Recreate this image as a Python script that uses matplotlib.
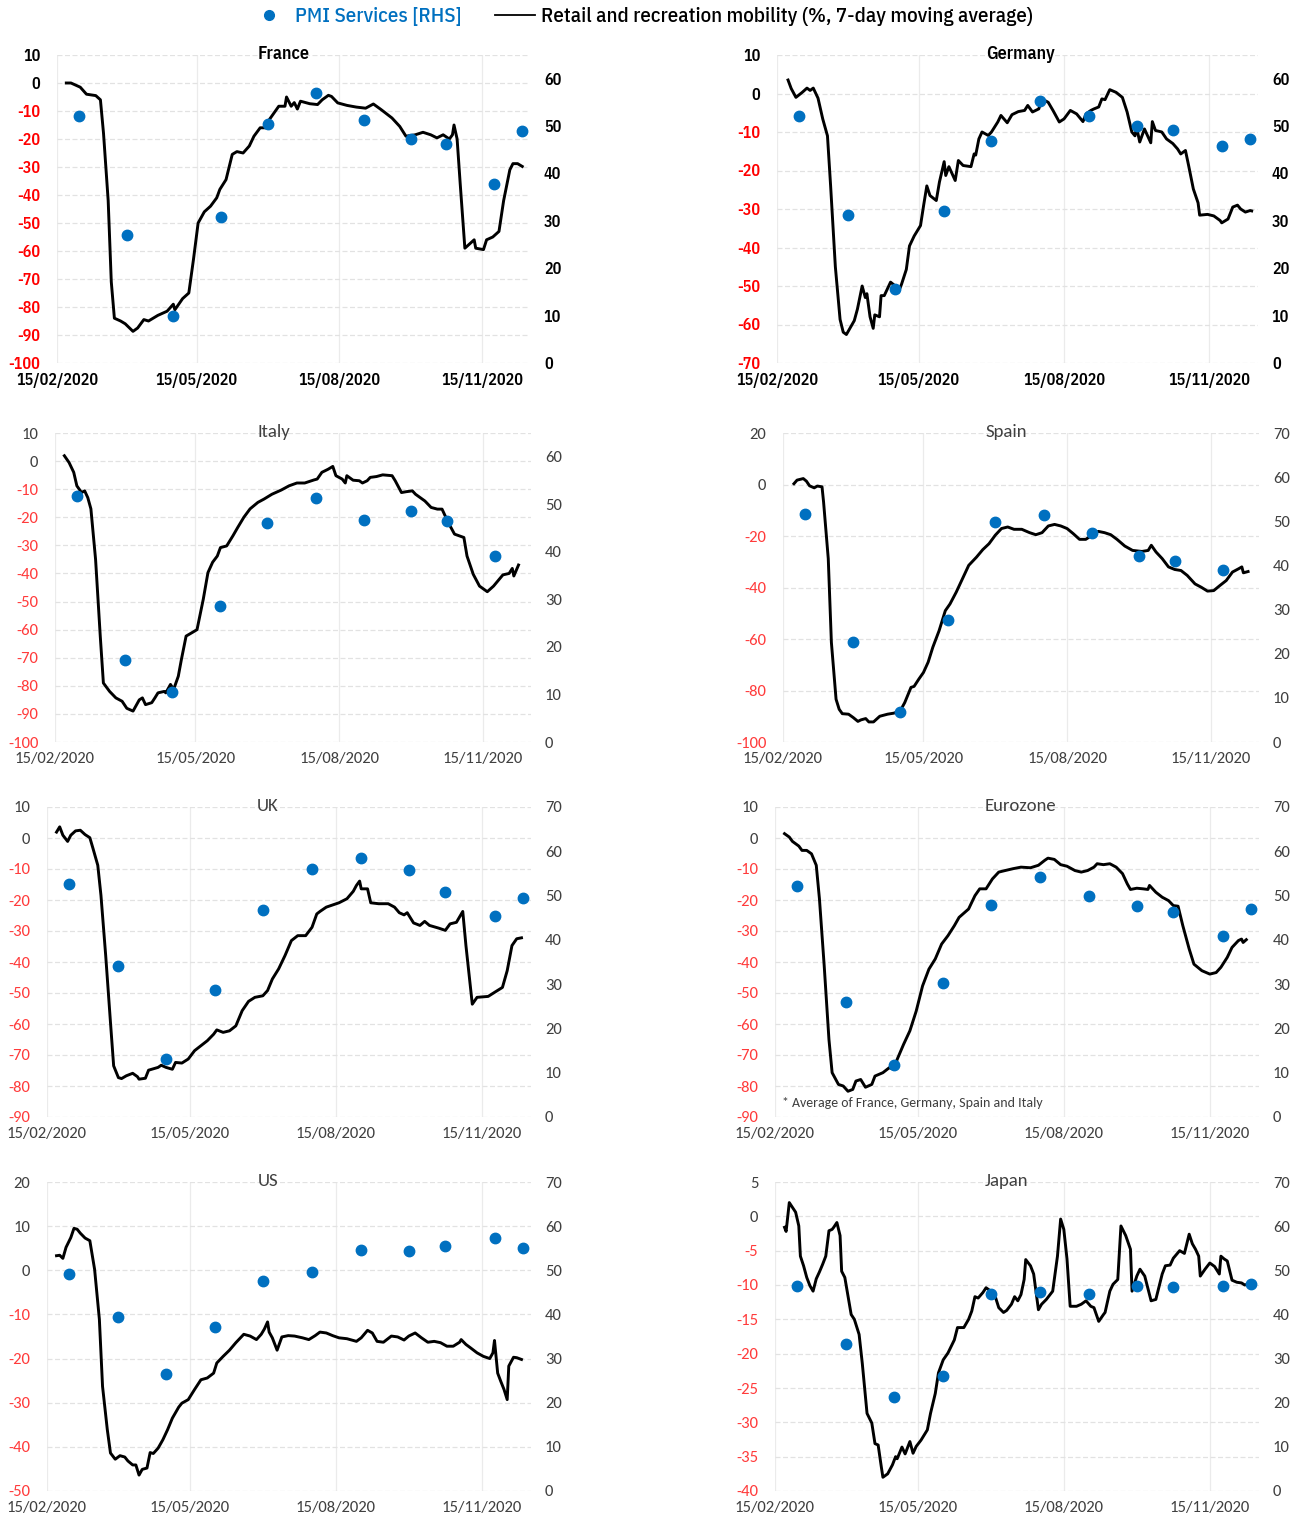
import numpy as np
import pandas as pd
import matplotlib
matplotlib.use('Agg')
import matplotlib.pyplot as plt
import matplotlib.dates as mdates
from matplotlib import font_manager
from matplotlib.lines import Line2D

# mobility: days since 15/02/2020 and % change (7-day moving average)
fr_day = [6, 9, 15, 19, 25, 28, 30, 33, 35, 37, 41, 44, 49, 52, 56, 59, 65, 71, 75, 76,
          81, 85, 88, 91, 95, 99, 103, 105, 109, 113, 116, 120, 124, 127, 131, 135, 137, 143, 147, 148,
          151, 153, 155, 157, 163, 168, 171, 175, 177, 181, 187, 193, 199, 204, 209, 216, 221, 225, 231, 236,
          241, 245, 249, 253, 255, 256, 258, 260, 263, 265, 269, 270, 275, 277, 281, 285, 288, 292, 294, 297, 300]
fr_mob = [0, 0, -1.5, -4, -4.5, -6, -18, -42, -71, -84, -85, -86, -88.7, -87.5, -84.5, -85, -83, -81.5, -79, -81,
          -77, -75, -63, -50, -46, -44, -41, -38, -34.5, -25.5, -24.5, -25, -22.5, -19, -16, -16, -13, -8.3, -8.3, -5,
          -8.3, -7, -9.3, -6.5, -7.4, -7.7, -6, -4.4, -4.8, -7.1, -8, -8.6, -9, -7.5, -9.5, -12.5, -15.5, -19, -18.5, -17.6,
          -18.5, -19.6, -18.5, -20, -18.5, -15, -20, -36, -59, -58, -56, -59, -59.5, -56, -55, -53, -42, -31, -28.8, -28.8, -29.8]

de_day = [7, 9, 12, 16, 19, 21, 23, 26, 29, 32, 34, 37, 40, 42, 44, 49, 51, 54, 56, 57,
          59, 61, 62, 65, 66, 68, 72, 75, 77, 79, 82, 84, 87, 91, 93, 95, 97, 101, 103, 106,
          107, 109, 113, 115, 118, 123, 125, 126, 128, 130, 134, 136, 140, 142, 146, 149, 153, 157, 159, 162,
          166, 168, 172, 175, 179, 182, 186, 190, 194, 196, 199, 201, 204, 206, 208, 211, 215, 219, 222, 225,
          227, 228, 230, 233, 235, 237, 238, 240, 244, 247, 251, 254, 256, 259, 261, 264, 267, 268, 273, 277,
          281, 282, 286, 289, 292, 294, 297, 300, 301]
de_mob = [3.5, 1.3, -1, 0.3, 1.4, 0.8, 1.4, -1.2, -6.6, -11, -24, -45, -58.7, -62, -62.6, -59, -56, -50, -53, -52,
          -58, -61, -57.5, -58, -52.5, -52.5, -49, -50, -51.6, -49.5, -45.7, -39.6, -37, -34.3, -29, -24, -26.5, -27.8, -23, -17.7,
          -21.3, -19, -22.6, -17.4, -18.7, -19, -15.7, -16, -11.8, -10, -10.9, -10, -7.4, -5.7, -7.6, -5.5, -4.7, -4.4, -3.1, -4.8,
          -4, -1.4, -2.3, -4.4, -7.4, -6.6, -4.4, -5.3, -7.3, -5.3, -4.4, -4, -3.5, -1.4, -1.6, 1, 0.3, -1, -4.8, -10,
          -11, -8.7, -12.6, -9.2, -11, -12.8, -7.3, -9.6, -10, -11.8, -13, -14.4, -15.7, -14.8, -18.7, -24.8, -28.4, -31.6, -31.4, -31.8,
          -33, -33.6, -32.6, -29.5, -29, -30, -30.8, -30.4, -30.5]

it_day = [6, 9, 12, 14, 17, 19, 21, 23, 26, 29, 31, 35, 39, 43, 46, 50, 54, 56, 58, 62,
          64, 66, 70, 71, 74, 76, 79, 81, 84, 88, 91, 95, 98, 101, 104, 106, 110, 112, 114, 117,
          121, 125, 130, 134, 139, 145, 150, 155, 160, 166, 168, 171, 175, 178, 180, 184, 186, 187, 191, 195,
          197, 200, 202, 206, 210, 216, 218, 222, 225, 229, 231, 237, 241, 245, 248, 252, 256, 262, 264, 268,
          272, 277, 281, 287, 291, 293, 294, 297]
it_mob = [1.9, -0.5, -4, -8.8, -11.2, -10.6, -13, -17, -35, -62.3, -79, -82, -84.3, -85.5, -88, -89, -85, -84.3, -86.7, -86,
          -84.3, -82.5, -82, -82.5, -79.5, -81.3, -76.6, -70.6, -62.3, -61, -60, -49.2, -39.7, -36, -33.8, -30.8, -30.2, -28.4, -26.6, -23.7,
          -20, -17, -14.7, -13.5, -11.8, -10.3, -8.8, -7.8, -7.8, -6.7, -6.4, -4, -2.9, -1.9, -5.2, -6.4, -7.8, -5.2, -6.8, -7,
          -7.8, -7, -5.8, -5.5, -4.9, -5.2, -7, -11.2, -10.9, -10.6, -11.8, -14.2, -16.5, -17.1, -17.1, -21.9, -26, -27.2, -33.8, -40.3,
          -44.5, -46.5, -44.5, -40.5, -40, -38.2, -40.9, -37]

es_day = [7, 9, 13, 15, 17, 20, 22, 25, 26, 29, 31, 34, 36, 38, 42, 45, 48, 50, 53, 55,
          58, 62, 67, 71, 75, 78, 82, 84, 87, 90, 93, 96, 100, 104, 107, 111, 115, 119, 124, 128,
          132, 136, 140, 144, 148, 153, 158, 162, 166, 170, 174, 178, 182, 186, 190, 194, 198, 202, 206, 210,
          214, 219, 224, 230, 234, 236, 239, 243, 247, 251, 255, 259, 264, 268, 272, 276, 280, 284, 288, 292,
          294, 295, 298]
es_mob = [0.3, 1.7, 2.3, 1.3, -0.5, -1.3, -0.6, -0.9, -6.8, -28.8, -61.3, -83.4, -87.3, -89, -89.2, -90.5, -92, -91.4, -90.9, -92.2,
          -92.2, -90, -89.2, -88.8, -88, -84.7, -78.8, -78.4, -75.6, -73, -69, -63.2, -56.8, -49, -46.4, -41.8, -36.6, -31.4, -28.2, -25.3,
          -23, -19.7, -17.1, -16.5, -17.4, -17.4, -18.7, -19.5, -18.7, -16.1, -15.5, -16.1, -17.1, -19.1, -21.3, -21.3, -19.7, -18.2, -18.7, -19.5,
          -21.3, -23.9, -25.6, -26, -25.6, -23.6, -26.2, -28.8, -32, -33, -33.4, -35.3, -38.6, -39.9, -41.4, -41.2, -39.2, -37.3, -34, -32.7,
          -32, -34.3, -33.8]

uk_day = [6, 8, 10, 13, 15, 18, 21, 24, 27, 29, 32, 34, 37, 40, 42, 45, 47, 50, 54, 57,
          58, 62, 64, 70, 72, 75, 79, 81, 85, 89, 93, 97, 101, 105, 107, 111, 115, 119, 123, 127,
          131, 136, 139, 142, 146, 150, 154, 158, 163, 167, 170, 172, 176, 180, 184, 189, 193, 195, 197, 198,
          202, 204, 209, 215, 219, 222, 225, 227, 231, 235, 238, 241, 247, 251, 254, 258, 262, 264, 268, 271,
          278, 282, 287, 290, 293, 296, 299]
uk_mob = [1.9, 3.6, 0.9, -1.1, 0.9, 2.3, 2.5, 1.1, 0.1, -3.4, -8.8, -18.5, -38, -59.5, -73.5, -77.3, -77.6, -76.7, -75.9, -77,
          -77.8, -77.5, -74.9, -74, -73.3, -74, -74.6, -72.4, -72.6, -71.3, -68.6, -67, -65.4, -63.3, -61.9, -62.7, -62.2, -60.6, -55.7, -52.7,
          -51.4, -50.9, -49.2, -45.5, -42.2, -37.9, -33.1, -31.5, -31.5, -28.8, -24.5, -23.7, -22.3, -21.6, -20.9, -19.6, -17.2, -15.3, -13.9, -16.4,
          -16.4, -20.9, -21.2, -21.2, -22.3, -24.1, -24.8, -24.1, -27.4, -28.2, -26.9, -28.2, -29.1, -29.8, -27.7, -27.2, -23.7, -34.7, -53.6, -51.4,
          -51.1, -49.8, -48.2, -42.8, -34.7, -32.5, -32.2]

ez_day = [6, 9, 11, 15, 17, 20, 23, 26, 28, 31, 34, 36, 40, 43, 46, 49, 51, 54, 57, 61,
          63, 68, 72, 75, 77, 81, 85, 89, 93, 97, 101, 105, 109, 113, 116, 122, 126, 129, 133, 137,
          141, 145, 150, 155, 161, 166, 170, 172, 176, 180, 184, 189, 193, 197, 201, 203, 207, 211, 215, 219,
          222, 224, 228, 232, 235, 236, 240, 244, 248, 251, 254, 257, 261, 264, 269, 274, 278, 281, 285, 288,
          292, 294, 295, 297]
ez_mob = [1.4, 0.3, -1.1, -2.6, -4, -4, -5.1, -8.8, -19.6, -41.2, -65, -75.7, -79.5, -80, -81.7, -81.1, -78.4, -77.9, -80.4, -79.5,
          -76.8, -75.7, -74.1, -74.6, -71.4, -66.6, -62.2, -55.8, -47.7, -42.3, -39, -34.2, -31.5, -28.3, -25.6, -22.9, -18.6, -16.4, -16.4, -13.2,
          -11, -10.5, -9.9, -9.4, -9.6, -8.8, -7.2, -6.5, -6.9, -8.6, -9.1, -10.5, -11, -10.5, -9.4, -8.3, -8.6, -8.3, -9.4, -11.5,
          -14.8, -16.6, -16.2, -16.4, -16.6, -15.3, -17.5, -19.1, -20.2, -21.8, -22, -28.3, -35.8, -40.7, -42.8, -43.9, -43.4, -41.7, -38.5, -35.3,
          -33.1, -32.6, -33.7, -32.8]

us_day = [6, 8, 10, 12, 15, 17, 19, 21, 24, 27, 30, 33, 35, 38, 40, 43, 46, 49, 51, 54,
          56, 58, 60, 63, 65, 67, 70, 73, 76, 79, 83, 85, 89, 93, 97, 101, 105, 107, 111, 115,
          119, 124, 128, 132, 135, 137, 139, 140, 142, 145, 148, 152, 156, 161, 165, 169, 172, 176, 180, 184,
          189, 195, 198, 202, 205, 208, 212, 217, 221, 225, 228, 232, 236, 240, 244, 248, 252, 256, 260, 261,
          264, 267, 271, 275, 279, 281, 282, 284, 286, 288, 290, 291, 294, 296, 299]
us_mob = [3.3, 3.4, 2.7, 5.2, 7.4, 9.5, 9.3, 8.4, 7.3, 6.7, 0.2, -11.1, -26.3, -36.1, -41.4, -42.8, -42, -42.3, -43.2, -44.1,
          -44.1, -46.4, -45.1, -44.8, -41.3, -41.5, -40.3, -38.4, -36.1, -33.5, -31, -30.1, -29.3, -27, -24.8, -24.4, -23.3, -21, -19.5, -18.1,
          -16.4, -14.5, -14.9, -15.7, -14.5, -13.3, -11.7, -14, -15.3, -18.1, -15.1, -14.8, -14.9, -15.3, -15.7, -14.8, -14, -14.2, -14.8, -15.3,
          -15.5, -16.1, -15.3, -13.6, -14.2, -16.1, -16.3, -14.9, -15.1, -15.8, -14.9, -14.2, -15.3, -16.3, -16.1, -16.4, -17.2, -17.2, -16.3, -15.7,
          -16.8, -17.6, -18.7, -19.5, -20, -18.7, -15.9, -23.3, -25.2, -27, -29.3, -21.7, -19.7, -19.8, -20.2]

jp_day = [6, 7, 9, 11, 13, 15, 16, 18, 20, 22, 24, 26, 28, 30, 32, 34, 36, 37, 39, 41,
          42, 44, 46, 48, 50, 53, 55, 58, 61, 63, 65, 67, 68, 71, 74, 76, 77, 80, 82, 83,
          85, 87, 89, 92, 96, 98, 101, 103, 106, 109, 113, 115, 119, 122, 124, 126, 128, 131, 133, 136,
          138, 141, 144, 146, 149, 151, 153, 155, 157, 158, 161, 163, 166, 168, 171, 175, 178, 180, 182, 184,
          186, 190, 193, 196, 199, 201, 204, 207, 208, 211, 213, 216, 218, 221, 224, 225, 228, 230, 233, 237,
          240, 244, 246, 249, 251, 255, 258, 261, 263, 265, 267, 268, 271, 274, 277, 280, 281, 283, 285, 288,
          291, 294, 296, 299]
jp_mob = [-1.6, -2.2, 2.0, 1.3, 0.6, -1.4, -5.8, -7.2, -8.9, -10.1, -10.9, -9.1, -8.1, -7, -5.8, -2.1, -1.9, -1.6, -0.9, -2.8,
          -8, -8.9, -11.6, -14.3, -15, -17.2, -21.4, -28.7, -30.1, -33.1, -33.3, -36.5, -38, -37.5, -36.2, -35, -35.3, -33.6, -34.6, -34,
          -32.8, -34.5, -33.5, -32.6, -31.1, -28.7, -25.8, -22.8, -20.9, -19.9, -18, -16.2, -16.2, -15, -13.8, -11.7, -11.9, -11.1, -10.4, -10.9,
          -11.1, -13.3, -14, -13.7, -12.8, -11.7, -12.3, -11.4, -9.2, -6.3, -7.2, -8.4, -13.6, -12.8, -12.1, -10.9, -5.8, -0.4, -1.9, -6.2,
          -13.1, -13.1, -12.8, -12.3, -13.1, -13.3, -15.3, -14.3, -14, -10.9, -9.9, -9.2, -1.4, -2.8, -4.8, -10.9, -8.7, -7.7, -8.7, -12.3,
          -12.1, -8.4, -7.2, -7.1, -6.1, -5, -5.4, -2.6, -4, -4.8, -5.8, -8.7, -7.7, -6.8, -7.3, -8.4, -5.8, -6.2, -6.5, -9.3,
          -9.6, -9.7, -10, -9.8]

# PMI services (right axis)
pmi_dates = ['2020-02-29', '2020-03-31', '2020-04-30', '2020-05-31', '2020-06-30', '2020-07-31',
             '2020-08-31', '2020-09-30', '2020-10-23', '2020-11-23', '2020-12-11']
fr_pmi = [52.1, 27.0, 10.0, 30.9, 50.5, 57.0, 51.3, 47.3, 46.3, 37.7, 48.9]
de_pmi = [52.1, 31.2, 15.7, 32.1, 46.9, 55.2, 52.1, 50.1, 49.1, 45.8, 47.3]
it_pmi = [51.7, 17.2, 10.5, 28.6, 46.1, 51.3, 46.8, 48.5, 46.4, 39.1]
es_pmi = [51.7, 22.6, 6.7, 27.6, 49.8, 51.4, 47.4, 42.1, 40.9, 39.0]
uk_pmi = [52.7, 34.2, 13.1, 28.7, 46.7, 56.1, 58.4, 55.7, 50.9, 45.3, 49.4]
ez_pmi = [52.1, 26.0, 11.8, 30.2, 47.9, 54.3, 50.0, 47.6, 46.4, 40.9, 46.9]
us_pmi = [49.1, 39.5, 26.4, 37.2, 47.6, 49.7, 54.6, 54.3, 55.6, 57.4, 55.0]
jp_pmi = [46.5, 33.4, 21.2, 26.1, 44.7, 45.0, 44.7, 46.5, 46.3, 46.4, 46.8]

installed = {f.name for f in font_manager.fontManager.ttflist}


def pick(*cands):
    for c in cands:
        if c in installed:
            return c
    return 'DejaVu Sans'


cond = pick('IBM Plex Sans Condensed', 'Roboto Condensed', 'Barlow Semi Condensed', 'PT Sans Narrow',
            'Archivo Narrow', 'Liberation Sans Narrow')
light = pick('Carlito', 'Calibri', 'Open Sans', 'Noto Sans')
plt.rcParams['font.family'] = [cond, 'DejaVu Sans']

start = pd.Timestamp('2020-02-15')
end = pd.Timestamp('2020-12-16')
blue = '#0070C0'

W, H = 1301, 1517
fig = plt.figure(figsize=(W / 100, H / 100), dpi=100)

# name, days, mobility, pmi, left ylim, left step, right top, box px (l, t, r, b), title x px, top-row style
panels = [
    ('France', fr_day, fr_mob, fr_pmi, (-100, 10), 10, 65, (57, 55, 530, 363), 284, True),
    ('Germany', de_day, de_mob, de_pmi, (-70, 10), 10, 65, (777, 55, 1258, 363), 1021, True),
    ('Italy', it_day, it_mob, it_pmi, (-100, 10), 10, 65, (55, 433, 531, 742), 274, False),
    ('Spain', es_day, es_mob, es_pmi, (-100, 20), 20, 70, (783, 433, 1259, 742), 1006, False),
    ('UK', uk_day, uk_mob, uk_pmi, (-90, 10), 10, 70, (47, 807, 531, 1117), 268, False),
    ('Eurozone', ez_day, ez_mob, ez_pmi, (-90, 10), 10, 70, (775, 807, 1259, 1117), 1020, False),
    ('US', us_day, us_mob, us_pmi, (-50, 20), 10, 70, (47, 1182, 531, 1491), 268, False),
    ('Japan', jp_day, jp_mob, jp_pmi, (-40, 5), 5, 70, (775, 1182, 1259, 1491), 1006, False),
]

for name, day, mob, pmi, ylim, step, rtop, box, tx, top in panels:
    l, t, r, b = box
    ax = fig.add_axes([l / W, 1 - b / H, (r - l) / W, (b - t) / H])
    dates = start + pd.to_timedelta(day, unit='D')
    ax.plot(dates, mob, color='black', lw=2.1, zorder=3)

    fam = [cond, 'DejaVu Sans'] if top else [light, 'DejaVu Sans']
    weight = 600 if top else 'normal'
    size = 11.5 if top else 12
    pos_col = 'black' if top else '#404040'
    neg_col = '#FF0000' if top else '#FF3B3B'

    ax.set_xlim(start, end)
    ax.xaxis.set_major_locator(mdates.MonthLocator(bymonth=[2, 5, 8, 11], bymonthday=15))
    ax.xaxis.set_major_formatter(mdates.DateFormatter('%d/%m/%Y'))
    ax.set_ylim(*ylim)
    ticks = list(range(ylim[0], ylim[1] + 1, step))
    ax.set_yticks(ticks, labels=[str(v) for v in ticks])
    for v, lab in zip(ticks, ax.get_yticklabels()):
        lab.set_color(neg_col if v < 0 else pos_col)
        lab.set_family(fam)
        lab.set_fontweight(weight)
        lab.set_fontsize(size)
    for lab in ax.get_xticklabels():
        lab.set_color(pos_col)
        lab.set_family(fam)
        lab.set_fontweight(weight)
        lab.set_fontsize(size)
    ax.grid(axis='y', color='#E2E2E2', lw=0.9, ls=(0, (4, 2)))
    ax.grid(axis='x', color='#EBEBEB', lw=0.9)
    ax.set_axisbelow(True)
    for s in ax.spines.values():
        s.set_visible(False)
    ax.tick_params(axis='y', length=0, pad=12)
    ax.tick_params(axis='x', length=0, pad=7)

    ax2 = ax.twinx()
    ax2.plot(pd.to_datetime(pmi_dates[:len(pmi)]), pmi, 'o', color=blue, ms=7.5, zorder=4)
    ax2.set_ylim(0, rtop)
    rt = list(range(0, rtop + 1, 10))
    ax2.set_yticks(rt, labels=[str(v) for v in rt])
    for lab in ax2.get_yticklabels():
        lab.set_color(pos_col)
        lab.set_family(fam)
        lab.set_fontweight(weight)
        lab.set_fontsize(size)
    for s in ax2.spines.values():
        s.set_visible(False)
    ax2.tick_params(axis='y', length=0, pad=10)

    fig.text(tx / W, 1 - (t - 1) / H, name, ha='center', va='center',
             fontsize=13 if top else 13.5, fontweight=weight, color=pos_col, family=fam)
    if name == 'Eurozone':
        ax.text(0.015, 0.045, '* Average of France, Germany, Spain and Italy', transform=ax.transAxes,
                ha='left', va='center', fontsize=10, color='#404040', family=fam)

handles = [Line2D([], [], marker='o', ls='none', color=blue, ms=7),
           Line2D([], [], color='black', lw=1.3)]
fig.legend(handles, ['PMI Services [RHS]', 'Retail and recreation mobility (%, 7-day moving average)'],
           loc='center', bbox_to_anchor=(641 / W, 1 - 17 / H), ncol=2, frameon=False,
           prop={'family': [cond, 'DejaVu Sans'], 'size': 15, 'weight': 500},
           labelcolor=[blue, 'black'], handlelength=1.9, handletextpad=0.3, columnspacing=1.6)

fig.savefig('out.png', dpi=100)
